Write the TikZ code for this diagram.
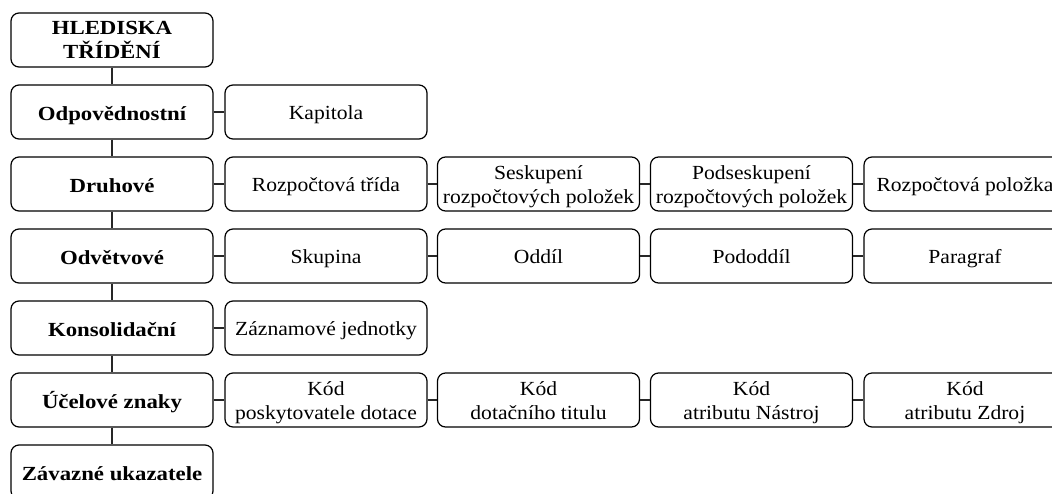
\documentclass[tikz,border=0pt]{standalone}
\usepackage{fontspec}
\setmainfont{Liberation Serif}[FakeStretch=1.08,BoldFeatures={FakeStretch=1.14}]
\begin{document}
\begin{tikzpicture}[x=1pt,y=-1pt,
  box/.style={draw, line width=1.2pt, rounded corners=8pt, minimum width=202pt, minimum height=54pt, inner sep=0pt, align=center, text height=15.4pt, text depth=0pt, font=\fontsize{20}{23.5}\selectfont},
  twoline/.style={text height=38.9pt},
  head/.style={box, text height=16.8pt, font=\fontsize{20}{23.5}\selectfont\bfseries},
  conn/.style={line width=1.2pt, draw=black!85}]
\useasboundingbox (0,0) rectangle (1052,493);
\clip (0,0) rectangle (1052,493);
% left column
\node[head, text height=36.6pt] (h0) at (112,40) {HLEDISKA\\TŘÍDĚNÍ};
\node[head] (h1) at (112,112) {Odpovědnostní};
\node[head] (h2) at (112,184) {Druhové};
\node[head] (h3) at (112,256) {Odvětvové};
\node[head] (h4) at (112,328) {Konsolidační};
\node[head] (h5) at (112,400) {Účelové znaky};
\node[head] (h6) at (112,472) {Závazné ukazatele};
% row 1
\node[box] (a1) at (326,112) {Kapitola};
% row 2
\node[box] (b1) at (326,184) {Rozpočtová třída};
\node[box, twoline] (b2) at (538.5,184) {Seskupení\\rozpočtových položek};
\node[box, twoline] (b3) at (751.5,184) {Podseskupení\\rozpočtových položek};
\node[box] (b4) at (965,184) {Rozpočtová položka};
% row 3
\node[box] (c1) at (326,256) {Skupina};
\node[box] (c2) at (538.5,256) {Oddíl};
\node[box] (c3) at (751.5,256) {Pododdíl};
\node[box] (c4) at (965,256) {Paragraf};
% row 4
\node[box] (d1) at (326,328) {Záznamové jednotky};
% row 5
\node[box, twoline] (e1) at (326,400) {Kód\\poskytovatele dotace};
\node[box, twoline] (e2) at (538.5,400) {Kód\\dotačního titulu};
\node[box, twoline] (e3) at (751.5,400) {Kód\\atributu Nástroj};
\node[box, twoline] (e4) at (965,400) {Kód\\atributu Zdroj};
% vertical connectors
\draw[conn] (h0) -- (h1);
\draw[conn] (h1) -- (h2);
\draw[conn] (h2) -- (h3);
\draw[conn] (h3) -- (h4);
\draw[conn] (h4) -- (h5);
\draw[conn] (h5) -- (h6);
% horizontal connectors
\draw[conn] (h1) -- (a1);
\draw[conn] (h2) -- (b1);
\draw[conn] (b1) -- (b2);
\draw[conn] (b2) -- (b3);
\draw[conn] (b3) -- (b4);
\draw[conn] (h3) -- (c1);
\draw[conn] (c1) -- (c2);
\draw[conn] (c2) -- (c3);
\draw[conn] (c3) -- (c4);
\draw[conn] (h4) -- (d1);
\draw[conn] (h5) -- (e1);
\draw[conn] (e1) -- (e2);
\draw[conn] (e2) -- (e3);
\draw[conn] (e3) -- (e4);
\end{tikzpicture}
\end{document}
